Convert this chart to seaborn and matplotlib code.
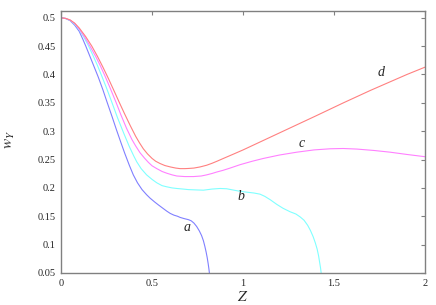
import matplotlib
matplotlib.use("Agg")
import matplotlib.pyplot as plt
import pandas as pd
import seaborn as sns

# ----------------------------------------------------------------------------- data
z_a = [0, 0.025, 0.05, 0.075, 0.10, 0.12, 0.136, 0.17, 0.205, 0.23, 0.251, 0.28,
       0.305, 0.33, 0.35, 0.375, 0.397, 0.42, 0.445, 0.47, 0.489, 0.515, 0.535,
       0.56, 0.581, 0.60, 0.62, 0.64, 0.654, 0.675, 0.70, 0.715, 0.73, 0.745,
       0.76, 0.772, 0.782, 0.79, 0.797, 0.803, 0.808, 0.812, 0.815]
w_a = [0.5, 0.4987, 0.495, 0.487, 0.476, 0.462, 0.450, 0.423, 0.395, 0.373, 0.353, 0.326,
       0.302, 0.279, 0.261, 0.240, 0.223, 0.209, 0.197, 0.188, 0.182, 0.175, 0.170,
       0.164, 0.159, 0.155, 0.152, 0.150, 0.148, 0.146, 0.144, 0.142, 0.138, 0.132,
       0.124, 0.116, 0.107, 0.097, 0.087, 0.077, 0.067, 0.058, 0.05]

z_b = [0, 0.025, 0.05, 0.075, 0.10, 0.125, 0.150, 0.175, 0.20, 0.224, 0.25, 0.278,
       0.31, 0.345, 0.375, 0.40, 0.416, 0.44, 0.47, 0.50, 0.526, 0.555, 0.58,
       0.61, 0.636, 0.67, 0.70, 0.74, 0.782, 0.83, 0.874, 0.91, 0.95, 0.984,
       1.02, 1.06, 1.093, 1.12, 1.15, 1.185, 1.22, 1.258, 1.29, 1.313, 1.335,
       1.355, 1.37, 1.385, 1.397, 1.407, 1.415, 1.421, 1.426, 1.429]
w_b = [0.5, 0.4988, 0.4955, 0.489, 0.479, 0.466, 0.451, 0.434, 0.416, 0.397, 0.376, 0.352,
       0.324, 0.296, 0.273, 0.256, 0.246, 0.234, 0.223, 0.215, 0.209, 0.204, 0.202,
       0.200, 0.199, 0.198, 0.197, 0.1965, 0.196, 0.198, 0.199, 0.1985, 0.196, 0.194,
       0.1925, 0.191, 0.189, 0.185, 0.179, 0.171, 0.164, 0.158, 0.154, 0.149, 0.143,
       0.134, 0.125, 0.114, 0.103, 0.092, 0.080, 0.068, 0.058, 0.05]

z_c = [0, 0.025, 0.05, 0.075, 0.10, 0.13, 0.159, 0.19, 0.215, 0.242, 0.27, 0.302,
       0.33, 0.36, 0.39, 0.41, 0.434, 0.46, 0.48, 0.50, 0.526, 0.555, 0.58,
       0.61, 0.636, 0.68, 0.727, 0.77, 0.80, 0.83, 0.855, 0.89, 0.929, 0.984,
       1.05, 1.112, 1.2, 1.295, 1.39, 1.478, 1.55, 1.625, 1.72, 1.808, 1.9, 2.0]
w_c = [0.5, 0.4989, 0.4958, 0.490, 0.480, 0.466, 0.450, 0.432, 0.416, 0.397, 0.376, 0.351,
       0.328, 0.305, 0.285, 0.274, 0.262, 0.252, 0.245, 0.239, 0.234, 0.229, 0.226,
       0.223, 0.221, 0.220, 0.220, 0.221, 0.223, 0.2255, 0.228, 0.231, 0.235, 0.241,
       0.247, 0.252, 0.258, 0.263, 0.267, 0.269, 0.2695, 0.2685, 0.266, 0.263, 0.259, 0.255]

z_d = [0, 0.025, 0.05, 0.075, 0.10, 0.135, 0.169, 0.20, 0.23, 0.26, 0.29, 0.324,
       0.35, 0.38, 0.41, 0.43, 0.452, 0.475, 0.50, 0.52, 0.544, 0.57, 0.60,
       0.63, 0.654, 0.68, 0.70, 0.73, 0.764, 0.80, 0.83, 0.86, 0.892, 0.95,
       1.0, 1.1, 1.2, 1.3, 1.4, 1.551, 1.7, 1.8, 1.9, 2.0]
w_d = [0.5, 0.499, 0.4962, 0.4905, 0.482, 0.467, 0.450, 0.432, 0.413, 0.393, 0.372, 0.348,
       0.330, 0.310, 0.291, 0.280, 0.269, 0.260, 0.252, 0.247, 0.243, 0.2395, 0.237,
       0.235, 0.234, 0.234, 0.2343, 0.235, 0.237, 0.240, 0.2435, 0.2475, 0.252, 0.260,
       0.267, 0.282, 0.297, 0.312, 0.327, 0.350, 0.372, 0.386, 0.400, 0.413]

curve_names = ["a", "b", "c", "d"]
curve_colors = ["#8080ff", "#80ffff", "#ff80ff", "#ff8080"]
label_z = [0.69, 0.99, 1.32, 1.76]
label_w = [0.130, 0.184, 0.279, 0.404]

x_ticks = [0, 0.5, 1, 1.5, 2]
x_tick_labels = ["0", "0.5", "1", "1.5", "2"]
y_ticks = [0.05, 0.1, 0.15, 0.2, 0.25, 0.3, 0.35, 0.4, 0.45, 0.5]
y_tick_labels = ["0.05", "0.1", "0.15", "0.2", "0.25", "0.3", "0.35", "0.4", "0.45", "0.5"]

# ----------------------------------------------------------------------------- frame
frames = []
for name, z, w in zip(curve_names, [z_a, z_b, z_c, z_d], [w_a, w_b, w_c, w_d]):
    frames.append(pd.DataFrame({"Z": z, "w": w, "curve": name}))
df = pd.concat(frames, ignore_index=True)

sns.set_style("white")
plt.rcParams["font.family"] = ["Liberation Serif", "DejaVu Serif"]
plt.rcParams["mathtext.fontset"] = "stix"

fig = plt.figure(figsize=(4.36, 3.05), dpi=100)
ax = fig.add_axes([0.140, 0.105, 0.835, 0.859])

sns.lineplot(data=df, x="Z", y="w", hue="curve", palette=dict(zip(curve_names, curve_colors)),
             sort=False, estimator=None, lw=0.8, legend=False, ax=ax)

for name, zx, wy in zip(curve_names, label_z, label_w):
    ax.text(zx, wy, name, fontsize=10, style="italic", ha="center", va="center")

ax.set_xlim(0, 2)
ax.set_ylim(0.05, 0.512)
ax.set_xticks(x_ticks)
ax.set_xticklabels(x_tick_labels)
ax.set_yticks(y_ticks)
ax.set_yticklabels(y_tick_labels)
ax.tick_params(direction="in", length=3, width=0.8, color="#808080", labelsize=7.5,
               top=True, right=True, pad=4)
for sp in ax.spines.values():
    sp.set_color("#808080")
    sp.set_linewidth(1.0)

ax.set_xlabel("$Z$", fontsize=11)
ax.set_ylabel("$w_Y$", fontsize=11)
ax.xaxis.set_label_coords(0.5, -0.065)
ax.yaxis.set_label_coords(-0.121, 0.508)

fig.savefig("out.png", dpi=100)
